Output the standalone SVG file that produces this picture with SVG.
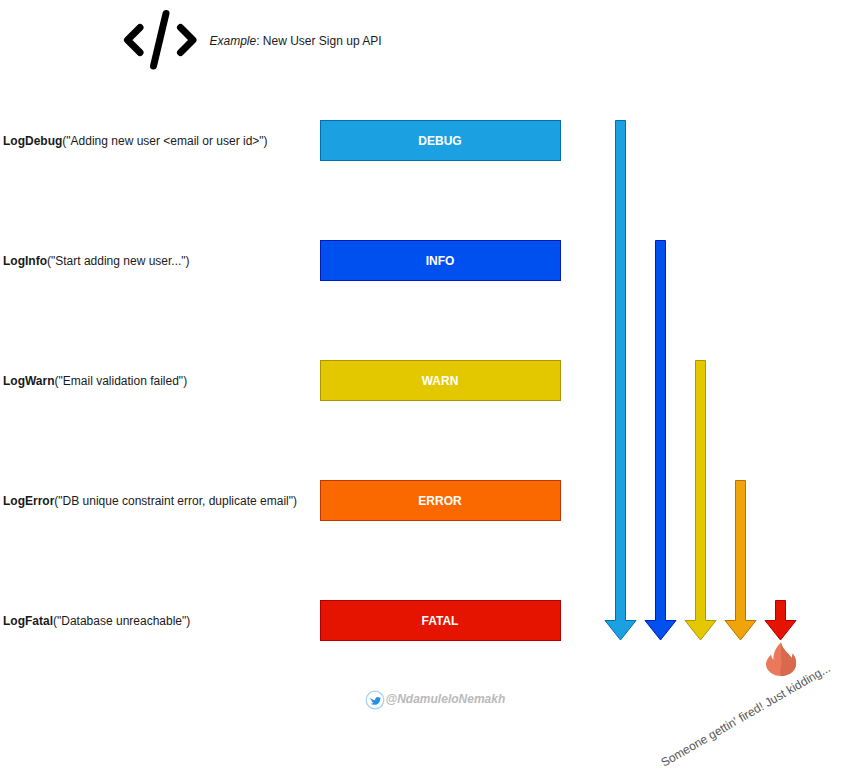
<svg xmlns="http://www.w3.org/2000/svg" width="843" height="778" viewBox="0 0 843 778">
<style>
text{font-family:"Liberation Sans",Arial,sans-serif;font-size:12px;fill:#1a1a1a}
.lbl{fill:#fff;font-weight:700;text-anchor:middle}
.box{stroke-width:1}
.arr{stroke-width:1;stroke-linejoin:miter}
</style>
<rect width="843" height="778" fill="#fff"/>
<g id="code-icon" fill="none" stroke="#000" stroke-width="7" stroke-linecap="round" stroke-linejoin="round">
<path d="M140 27.500L127.500 40L140 52.500"/>
<path d="M180.500 27.500L193 40L180.500 52.500"/>
<path d="M166 13.500L153.500 66"/>
</g>
<g id="example"><text x="209.500" y="45"><tspan font-style="italic">Example</tspan>: New User Sign up API</text></g>
<g id="debug-log"><text x="3" y="145"><tspan font-weight="700">LogDebug</tspan>("Adding new user &lt;email or user id&gt;")</text></g>
<g id="info-log"><text x="3" y="265"><tspan font-weight="700">LogInfo</tspan>("Start adding new user...")</text></g>
<g id="warn-log"><text x="3" y="385"><tspan font-weight="700">LogWarn</tspan>("Email validation failed")</text></g>
<g id="error-log"><text x="3" y="505"><tspan font-weight="700">LogError</tspan>("DB unique constraint error, duplicate email")</text></g>
<g id="fatal-log"><text x="3" y="625"><tspan font-weight="700">LogFatal</tspan>("Database unreachable")</text></g>
<g id="debug"><rect class="box" x="320.500" y="120.500" width="240" height="40" fill="#1ba1e2" stroke="#006eaf"/><text class="lbl" x="440" y="145">DEBUG</text></g>
<g id="info"><rect class="box" x="320.500" y="240.500" width="240" height="40" fill="#0050ef" stroke="#001dbc"/><text class="lbl" x="440" y="265">INFO</text></g>
<g id="warn"><rect class="box" x="320.500" y="360.500" width="240" height="40" fill="#e3c800" stroke="#b09500"/><text class="lbl" x="440" y="385">WARN</text></g>
<g id="error"><rect class="box" x="320.500" y="480.500" width="240" height="40" fill="#fa6800" stroke="#c73500"/><text class="lbl" x="440" y="505">ERROR</text></g>
<g id="fatal"><rect class="box" x="320.500" y="600.500" width="240" height="40" fill="#e51400" stroke="#b20000"/><text class="lbl" x="440" y="625">FATAL</text></g>
<g id="connectors">
<path class="arr" fill="#1ba1e2" stroke="#006eaf" d="M615.500 120.500H625.500V620.500H636L620.500 640L605 620.500H615.500Z"/>
<path class="arr" fill="#0050ef" stroke="#001dbc" d="M655.500 240.500H665.500V620.500H676L660.500 640L645 620.500H655.500Z"/>
<path class="arr" fill="#e3c800" stroke="#b09500" d="M695.500 360.500H705.500V620.500H716L700.500 640L685 620.500H695.500Z"/>
<path class="arr" fill="#f0a30a" stroke="#bd7000" d="M735.500 480.500H745.500V620.500H756L740.500 640L725 620.500H735.500Z"/>
<path class="arr" fill="#e51400" stroke="#b20000" d="M775.500 600.500H785.500V620.500H796L780.500 640L765 620.500H775.500Z"/>
</g>
<g id="fire">
<path fill="#e9785c" d="M781 642.500C782.500 650 789 653 791.500 658C792.500 656.500 792.500 655 792.500 653.500C795.500 657 796.500 661 796 665C795 672 788 676 781 676C773 676 766.500 671 766 665C765.800 660.500 768.500 657.500 771 654.500C771.500 657 772 658.500 773.500 659.500C773 653 776 647 781 642.500Z"/>
<path fill="#d8694c" d="M781 642.500C782.500 650 789 653 791.500 658C792.500 656.500 792.500 655 792.500 653.500C795.500 657 796.500 661 796 665C795 672 788 676 781 676C778.500 670 783 666 781 658Z"/>
</g>
<g id="twitter">
<circle cx="375" cy="700" r="8.800" fill="#fff" stroke="#a5d0f2" stroke-width="1.200"/>
<path fill="#2a8fe0" transform="translate(375.500 700.800) scale(.78) translate(-375.700 -700.800)" d="M368.800 696.500C371 699 373 700 375.300 700C375 697.500 376.500 695.800 378.500 695.800C379.500 695.800 380.200 696.200 380.800 696.800L382.300 696.300L381.500 697.800L382.600 697.500L381.700 698.700C381.700 702.500 378.800 706 374.500 706C372.500 706 370.800 705.400 369.500 704.500C371 704.600 372.300 704.200 373.300 703.400C372 703.300 371 702.500 370.600 701.400L371.800 701.300C370.500 700.800 369.500 699.700 369.500 698.300L370.700 698.700C369.400 698 368.600 697.500 368.800 696.500Z"/>
</g>
<g id="handle"><text x="385.500" y="703" font-style="italic" font-weight="700" style="fill:#bababa">@NdamuleloNemakh</text></g>
<g id="fire-caption"><text transform="translate(664 767) rotate(-30)" style="fill:#555">Someone gettin' fired! Just kidding...</text></g>
</svg>
